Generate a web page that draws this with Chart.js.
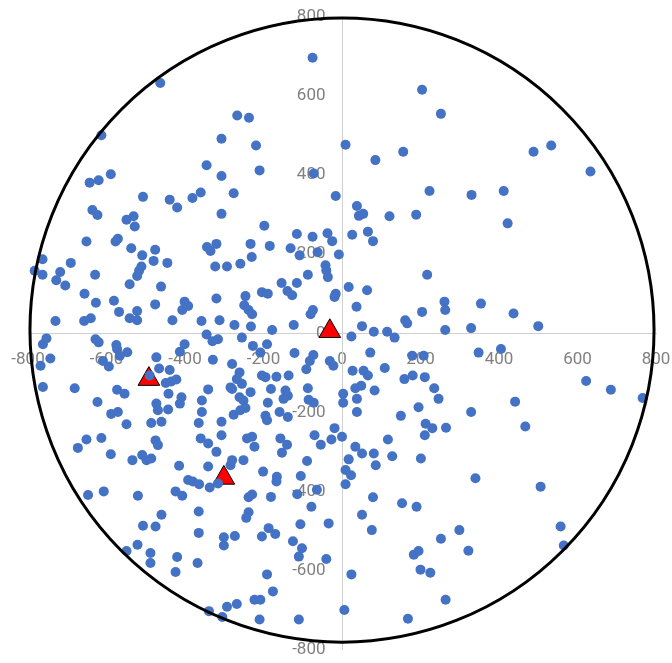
<!DOCTYPE html>
<html>
<head>
<meta charset="utf-8">
<script src="https://cdn.jsdelivr.net/npm/chart.js@4/dist/chart.umd.min.js"></script>
<style>
  html, body { margin: 0; padding: 0; background: #ffffff; }
  #wrap { width: 672px; height: 663px; }
</style>
</head>
<body>
<div id="wrap"><canvas id="c" width="672" height="663"></canvas></div>
<script>
// ---- data ----
const tickValues = [-800, -600, -400, -200, 0, 200, 400, 600, 800];

// blue observation points [x, y]
const dots = [
  [-463,633],[-613,501],[-307,492],[-345,425],[-75,697],[204,616],[252,555],[-267,551],[-237,545],
  [-219,475],[9,477],[85,438],[156,459],[-210,412],[488,459],[533,475],[633,409],
  [-307,398],[-643,381],[-620,387],[-589,402],[-507,345],[-439,338],[-420,318],[-381,342],[-360,356],
  [-636,312],[-623,299],[-549,287],[-531,296],[-528,270],[-307,302],[-651,232],[-577,232],[-571,239],
  [-537,215],[-509,197],[-476,211],[-480,183],[-445,178],[-344,218],[-320,226],[-335,208],[-323,169],
  [-763,187],[-783,158],[-763,148],[-691,178],[-718,155],[-728,134],[-705,121],[-629,148],[-511,169],
  [-517,158],[-522,145],[-541,124],[-461,118],[-656,100],[-627,77],[-581,82],[-568,54],[-522,56],
  [-541,38],[-522,33],[-476,73],[-432,33],[-407,59],[-401,80],[-392,69],[-730,31],[-657,31],[-640,38],
  [-358,31],[-320,88],[-312,33],
  [-72,404],[-276,354],[-16,347],[-198,272],[-115,251],[-75,244],[-37,253],[-25,233],[-233,226],
  [-184,221],[-131,215],[-108,197],[-62,205],[-8,199],[-230,193],[-293,169],[-259,176],[-42,172],
  [-40,159],[-36,142],[-87,148],[-154,127],[-115,127],[-204,104],[-189,100],[-139,107],[-127,96],
  [-246,94],[-249,71],[-238,59],[-229,48],[-16,100],[-19,92],[-74,59],[-80,48],[-274,21],[-232,17],
  [-178,8],[-123,21],[17,117],[64,109],[37,67],[51,18],[81,4],[115,4],[161,33],[166,25],[204,54],
  [261,80],[263,59],[263,8],[26,249],[66,257],[79,233],[38,322],[43,297],[54,302],[121,296],[189,300],
  [223,360],[217,148],
  [330,350],[412,360],[422,278],[354,75],[437,50],[500,18],[329,13],
  [-762,-28],[-753,-13],[-743,-64],[-768,-82],[-762,-136],[-681,-139],[-628,-15],[-620,-23],[-609,-70],
  [-594,-84],[-575,-30],[-573,-40],[-547,-48],[-566,-57],[-573,-143],[-554,-153],[-623,-174],[-588,-204],
  [-571,-199],[-549,-230],[-651,-269],[-673,-290],[-613,-265],[-589,-306],[-534,-321],[-509,-308],
  [-498,-321],[-486,-317],[-475,-271],[-469,-283],[-486,-227],[-460,-224],[-473,-178],[-469,-195],
  [-443,-193],[-442,-153],[-409,-162],[-413,-178],[-473,-61],[-466,-89],[-439,-93],[-449,-126],
  [-435,-122],[-422,-117],[-490,-107],[-413,-47],[-401,-28],[-345,-3],[-330,-20],[-316,-15],[-329,-67],
  [-341,-142],[-357,-170],[-357,-199],[-365,-227],[-307,-224],[-307,-258],[-360,-266],[-341,-279],
  [-320,-300],[-341,-337],[-415,-335],[-392,-371],[-380,-375],[-364,-382],[-337,-390],[-316,-380],
  [-647,-409],[-607,-400],[-520,-411],[-424,-400],[-407,-411],
  [-365,-451],[-460,-459],[-507,-487],[-475,-489],[-365,-505],[-521,-535],[-549,-551],[-488,-556],
  [-488,-581],[-420,-566],[-368,-581],[-424,-604],[-339,-703],
  [-238,-415],[-229,-408],[-181,-414],[-114,-407],[-78,-439],[-238,-453],[-244,-467],[-187,-493],
  [-170,-508],[-204,-514],[-273,-513],[-301,-516],[-301,-537],[-106,-483],[-34,-481],[-125,-526],
  [-102,-544],[-110,-565],[-40,-571],[-191,-610],[-176,-653],[-223,-674],[-208,-674],[-268,-685],
  [-293,-692],[-305,-718],[-210,-724],[-110,-724],[6,-700],[24,-610],[79,-415],[51,-459],[76,-498],
  [153,-430],[190,-439],[252,-520],[183,-560],[195,-551],[200,-598],[225,-606],[264,-674],[168,-722],
  [299,-498],[322,-550],[557,-489],[565,-537],
  [348,-49],[405,-40],[622,-121],[685,-143],[766,-164],[441,-173],[329,-199],[467,-236],[265,-239],
  [340,-367],[506,-388],
  [-255,-11],[24,-8],[134,-11],[-227,-32],[-191,-28],[-208,-49],[-121,-50],[-73,-55],[-82,-70],
  [-31,-70],[-22,-82],[72,-49],[-280,-78],[-261,-99],[-268,-116],[-255,-128],[-284,-137],[-280,-141],
  [-204,-107],[-195,-111],[-167,-110],[-136,-107],[-91,-91],[27,-95],[55,-95],[66,-107],[109,-88],
  [179,-57],[208,-57],[159,-116],[180,-107],[211,-111],[235,-139],[246,-166],[-181,-141],[-233,-149],
  [-261,-162],[-251,-170],[-144,-145],[-138,-158],[-149,-166],[-87,-139],[-85,-168],[-72,-176],
  [-189,-176],[34,-139],[49,-133],[83,-145],[3,-153],[3,-176],[38,-166],[38,-199],[195,-187],[150,-209],
  [-276,-206],[-246,-189],[-259,-195],[-195,-209],[-191,-220],[-159,-199],[-138,-212],[-19,-240],
  [-70,-258],[-54,-282],[-27,-269],[0,-262],[-242,-266],[-229,-262],[-223,-287],[-157,-266],[-140,-282],
  [-153,-302],[-251,-321],[-280,-321],[-284,-334],[-201,-350],[-166,-363],[-167,-375],[-105,-361],
  [-89,-323],[34,-287],[51,-304],[81,-304],[86,-334],[128,-311],[117,-269],[17,-319],[9,-346],[23,-359],
  [9,-382],[201,-317],[211,-258],[213,-229],[230,-240],[-64,-396]
];

// red triangle markers [x, y]
const markers = [[-31, 5], [-492, -116], [-301, -366]];

// reference circle (centre and radius in data units)
const circleCenter = [0, 8];
const circleRadius = 795;

// x position (data units) of the y-axis tick label column, left of the axis line
const yLabelColumnX = -42;

// ---- chart ----
const circlePlugin = {
  id: 'circle',
  afterDatasetsDraw(chart) {
    const {ctx, scales: {x, y}} = chart;
    const cx = x.getPixelForValue(circleCenter[0]);
    const cy = y.getPixelForValue(circleCenter[1]);
    const r = x.getPixelForValue(circleCenter[0] + circleRadius) - cx;
    ctx.save();
    ctx.beginPath();
    ctx.arc(cx, cy, r, 0, Math.PI * 2);
    ctx.lineWidth = 3;
    ctx.strokeStyle = '#000000';
    ctx.stroke();
    ctx.restore();
  }
};

const tickFont = { family: 'Roboto', size: 17 };
const tickColor = '#808080';
const axisColor = '#d0d0d0';
const setTicks = (s) => { s.ticks = tickValues.map(v => ({ value: v })); };

new Chart(document.getElementById('c'), {
  type: 'scatter',
  data: {
    datasets: [
      {
        label: 'points',
        data: dots.map(([x, y]) => ({ x, y })),
        pointRadius: 5,
        pointHoverRadius: 5,
        backgroundColor: '#4472c4',
        borderColor: '#4472c4',
        borderWidth: 0
      },
      {
        label: 'markers',
        data: markers.map(([x, y]) => ({ x, y })),
        pointStyle: 'triangle',
        pointRadius: 12.5,
        pointHoverRadius: 12.5,
        backgroundColor: '#ff0000',
        borderColor: '#000000',
        borderWidth: 1
      }
    ]
  },
  options: {
    responsive: false,
    animation: false,
    layout: { padding: { left: 28, right: 16, top: 17, bottom: 8 } },
    plugins: { legend: { display: false }, tooltip: { enabled: false } },
    scales: {
      x: {
        type: 'linear',
        min: -800, max: 800,
        position: { y: 0 },
        afterBuildTicks: setTicks,
        afterFit: (s) => { s.height = 0; s.paddingLeft = 0; s.paddingRight = 0; },
        ticks: { font: tickFont, color: tickColor, padding: 16, autoSkip: false, maxRotation: 0 },
        grid: { display: false, drawTicks: false },
        border: { display: true, color: axisColor, width: 1 }
      },
      y: {
        type: 'linear',
        min: -800, max: 800,
        position: { x: 0 },
        afterBuildTicks: setTicks,
        afterFit: (s) => { s.width = 0; s.paddingTop = 0; s.paddingBottom = 0; },
        ticks: { display: false },
        grid: { display: false, drawTicks: false },
        border: { display: true, color: axisColor, width: 1 }
      },
      yLabels: {
        type: 'linear',
        axis: 'y',
        min: -800, max: 800,
        position: { x: yLabelColumnX },
        afterBuildTicks: setTicks,
        afterFit: (s) => { s.width = 0; s.paddingTop = 0; s.paddingBottom = 0; },
        ticks: { font: tickFont, color: tickColor, padding: 0, autoSkip: false },
        grid: { display: false, drawTicks: false },
        border: { display: false }
      }
    }
  },
  plugins: [circlePlugin]
});
</script>
</body>
</html>
